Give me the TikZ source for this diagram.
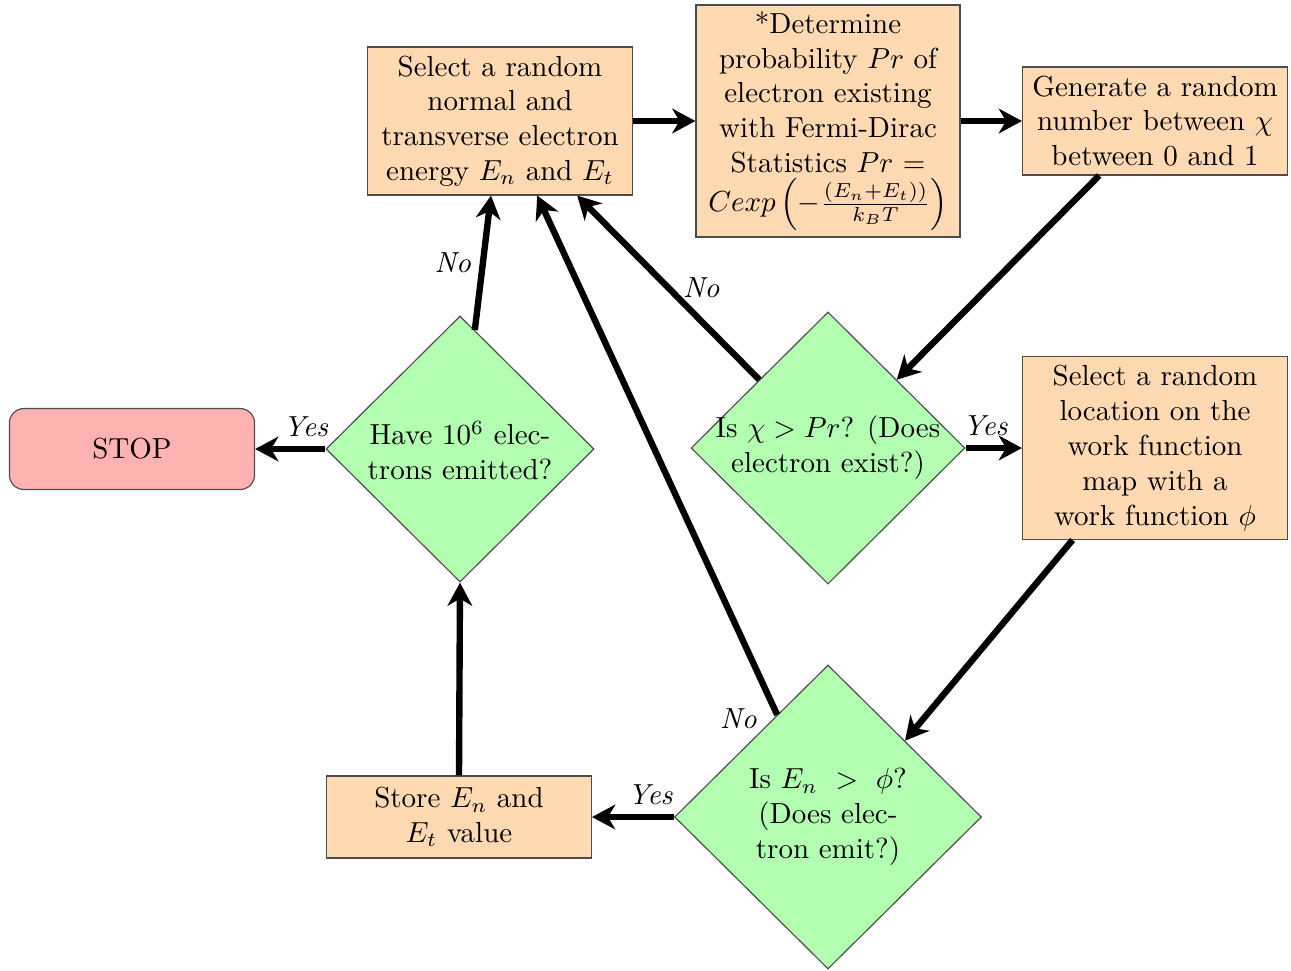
\documentclass[tikz,border=0pt]{standalone}
\usepackage{amsmath}
\usetikzlibrary{shapes.geometric,calc,arrows.meta}
\begin{document}
\begin{tikzpicture}[x=0.3447pt,y=-0.3447pt,
  procbox/.style={rectangle,draw=black!70,fill=orange!30,align=center,minimum width=91.3pt,inner sep=1pt},
  decbox/.style={diamond,draw=black!70,fill=green!30,inner sep=0pt},
  stopbox/.style={rectangle,rounded corners=5pt,draw=black!70,fill=red!30,minimum width=84.5pt,minimum height=27.9pt},
  conn/.style={-{Stealth[length=8pt,width=8.5pt,inset=2.5pt]},line width=2.2pt},
  lbl/.style={inner sep=1pt,font=\itshape}]
\useasboundingbox (0,0) rectangle (1291,970);

\node[procbox,minimum height=51pt] (s1) at (500,121)
  {Select a random\\normal and\\transverse electron\\energy $E_n$ and $E_t$};
\node[procbox,minimum height=80pt,minimum width=91pt,inner sep=0.5pt] (d) at (828,121)
  {*Determine\\probability $Pr$ of\\electron existing\\with Fermi-Dirac\\Statistics $Pr$ =\\[1.5pt]$Cexp\left(-\frac{(E_n+E_t))}{k_BT}\right)$};
\node[procbox,minimum height=37.2pt] (g) at (1155,121)
  {Generate a random\\number between $\chi$\\between 0 and 1};
\node[decbox,minimum width=94.4pt,minimum height=93.8pt,
  label={[align=center]center:{Is $\chi > Pr$? (Does\\electron exist?)}}] (q1) at (828,448) {};
\node[procbox,minimum height=63pt] (l) at (1155,448)
  {Select a random\\location on the\\work function\\map with a\\work function $\phi$};
\node[decbox,minimum width=105.8pt,minimum height=104.8pt,
  label={[align=center]center:{Is $E_n$ \;$>$\; $\phi$?\\(Does elec-\\tron emit?)}}] (q2) at (828,817) {};
\node[procbox,minimum height=28.3pt] (st) at (459,817)
  {Store $E_n$ and\\$E_t$ value};
\node[decbox,minimum width=92.4pt,minimum height=91.7pt,
  label={[align=center,yshift=-0.5pt]center:{Have $10^6$ elec-\\trons emitted?}}] (q3) at (460,449) {};
\node[stopbox] (stop) at (132,449) {STOP};

\draw[conn] (s1.east) -- (d.west);
\draw[conn] (d.east) -- (g.west);
\draw[conn] ($(g.south west)!0.29!(g.south east)$) -- ($(q1.north)!0.5!(q1.east)$);
\draw[conn] (q1.east) -- node[lbl,pos=0.35,above,yshift=2pt] {Yes} (l.west);
\draw[conn] ($(l.south west)!0.19!(l.south east)$) -- ($(q2.north)!0.5!(q2.east)$);
\draw[conn] (q2.west) -- node[lbl,pos=0.29,above,yshift=2pt] {Yes} (st.east);
\draw[conn] ($(q2.north)!0.33!(q2.west)$) -- node[lbl,pos=0,anchor=east,xshift=-5pt,yshift=-1.5pt] {No} ($(s1.south west)!0.64!(s1.south east)$);
\draw[conn] ($(q1.north)!0.5!(q1.west)$) -- node[lbl,pos=0.5,right,xshift=3pt] {No} ($(s1.south west)!0.79!(s1.south east)$);
\draw[conn] (st.north) -- (q3.south);
\draw[conn] ($(q3.north)!0.11!(q3.east)$) -- node[lbl,pos=0.5,left,xshift=-2pt] {No} ($(s1.south west)!0.466!(s1.south east)$);
\draw[conn] (q3.west) -- node[lbl,pos=0.28,above,yshift=2pt] {Yes} (stop.east);
\end{tikzpicture}
\end{document}
